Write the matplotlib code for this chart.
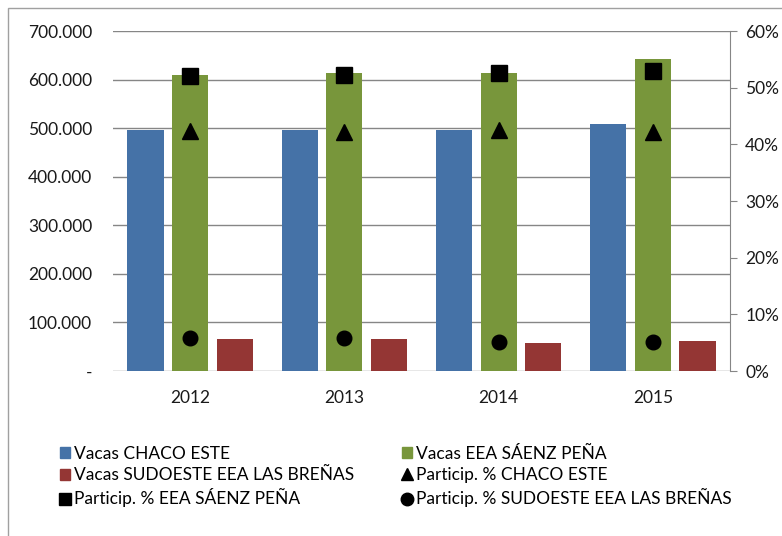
import matplotlib.pyplot as plt
import matplotlib.patches as mpatches
from matplotlib.lines import Line2D
from matplotlib.ticker import FuncFormatter, PercentFormatter
import numpy as np

plt.rcParams['font.family'] = ['Lato', 'DejaVu Sans']

years = ['2012', '2013', '2014', '2015']
vacas_chaco = [496000, 496000, 496000, 508000]
vacas_saenz = [609000, 614000, 614000, 642000]
vacas_sudoeste = [66000, 66000, 58000, 62000]
part_chaco = [42.4, 42.2, 42.5, 42.2]
part_saenz = [52.1, 52.2, 52.6, 52.9]
part_sudoeste = [5.8, 5.8, 5.1, 5.1]

blue = '#4572A7'
green = '#78963B'
red = '#943634'
grey = '#868686'

fig = plt.figure(figsize=(7.82, 5.36), dpi=100)
ax = fig.add_axes([113 / 782, 1 - 371 / 536, 617 / 782, 340 / 536])

x = np.arange(len(years))
w = 0.235
step = 0.29
ax.bar(x - step, vacas_chaco, w, color=blue, zorder=3)
ax.bar(x, vacas_saenz, w, color=green, zorder=3)
ax.bar(x + step, vacas_sudoeste, w, color=red, zorder=3)

ax.set_xlim(-0.5, 3.5)
ax.set_ylim(0, 700000)
ax.set_yticks(range(0, 700001, 100000))
ax.yaxis.set_major_formatter(FuncFormatter(
    lambda v, p: '-' if v == 0 else f'{int(v):,}'.replace(',', '.')))
ax.grid(axis='y', color=grey, linewidth=1, zorder=0)
ax.set_xticks(x)
ax.set_xticklabels(years)
ax.tick_params(axis='both', length=0, labelsize=12.5, colors='#1a1a1a')
ax.tick_params(axis='y', pad=15)
ax.tick_params(axis='x', pad=14)
for s in ax.spines.values():
    s.set_visible(False)

ax2 = ax.twinx()
ax2.set_ylim(0, 60)
ax2.set_yticks(range(0, 61, 10))
ax2.yaxis.set_major_formatter(PercentFormatter(decimals=0))
ax2.tick_params(axis='y', length=5, labelsize=12.5, colors='#1a1a1a', pad=6)
ax2.tick_params(axis='y', color=grey)
for k, s in ax2.spines.items():
    s.set_visible(k == 'right')
ax2.spines['right'].set_color(grey)
ax2.plot(x, part_chaco, '^', color='black', markersize=11, linestyle='none')
ax2.plot(x, part_saenz, 's', color='black', markersize=11.5, linestyle='none')
ax2.plot(x, part_sudoeste, 'o', color='black', markersize=10.5, linestyle='none')

# outer frame
fig.patches.append(mpatches.Rectangle((8 / 782, -0.1), 1.2, 1 - 8 / 536 + 0.1,
                                      transform=fig.transFigure, fill=False,
                                      edgecolor='#a0a0a0', linewidth=1))

handles = [
    mpatches.Patch(color=blue, label='Vacas CHACO ESTE'),
    mpatches.Patch(color=red, label='Vacas SUDOESTE EEA LAS BREÑAS'),
    Line2D([], [], marker='s', color='black', linestyle='none', markersize=9,
           label='Particip. % EEA SÁENZ PEÑA'),
    mpatches.Patch(color=green, label='Vacas EEA SÁENZ PEÑA'),
    Line2D([], [], marker='^', color='black', linestyle='none', markersize=9,
           label='Particip. % CHACO ESTE'),
    Line2D([], [], marker='o', color='black', linestyle='none', markersize=9,
           label='Particip. % SUDOESTE EEA LAS BREÑAS'),
]
fig.legend(handles=handles, ncol=2, loc='upper left',
           bbox_to_anchor=(53 / 782, 1 - 439 / 536), frameon=False,
           fontsize=12.5, handlelength=0.6, handleheight=0.6, handletextpad=0.2,
           columnspacing=2.75, labelspacing=0.3, borderaxespad=0)

fig.savefig('out.png', dpi=100)
